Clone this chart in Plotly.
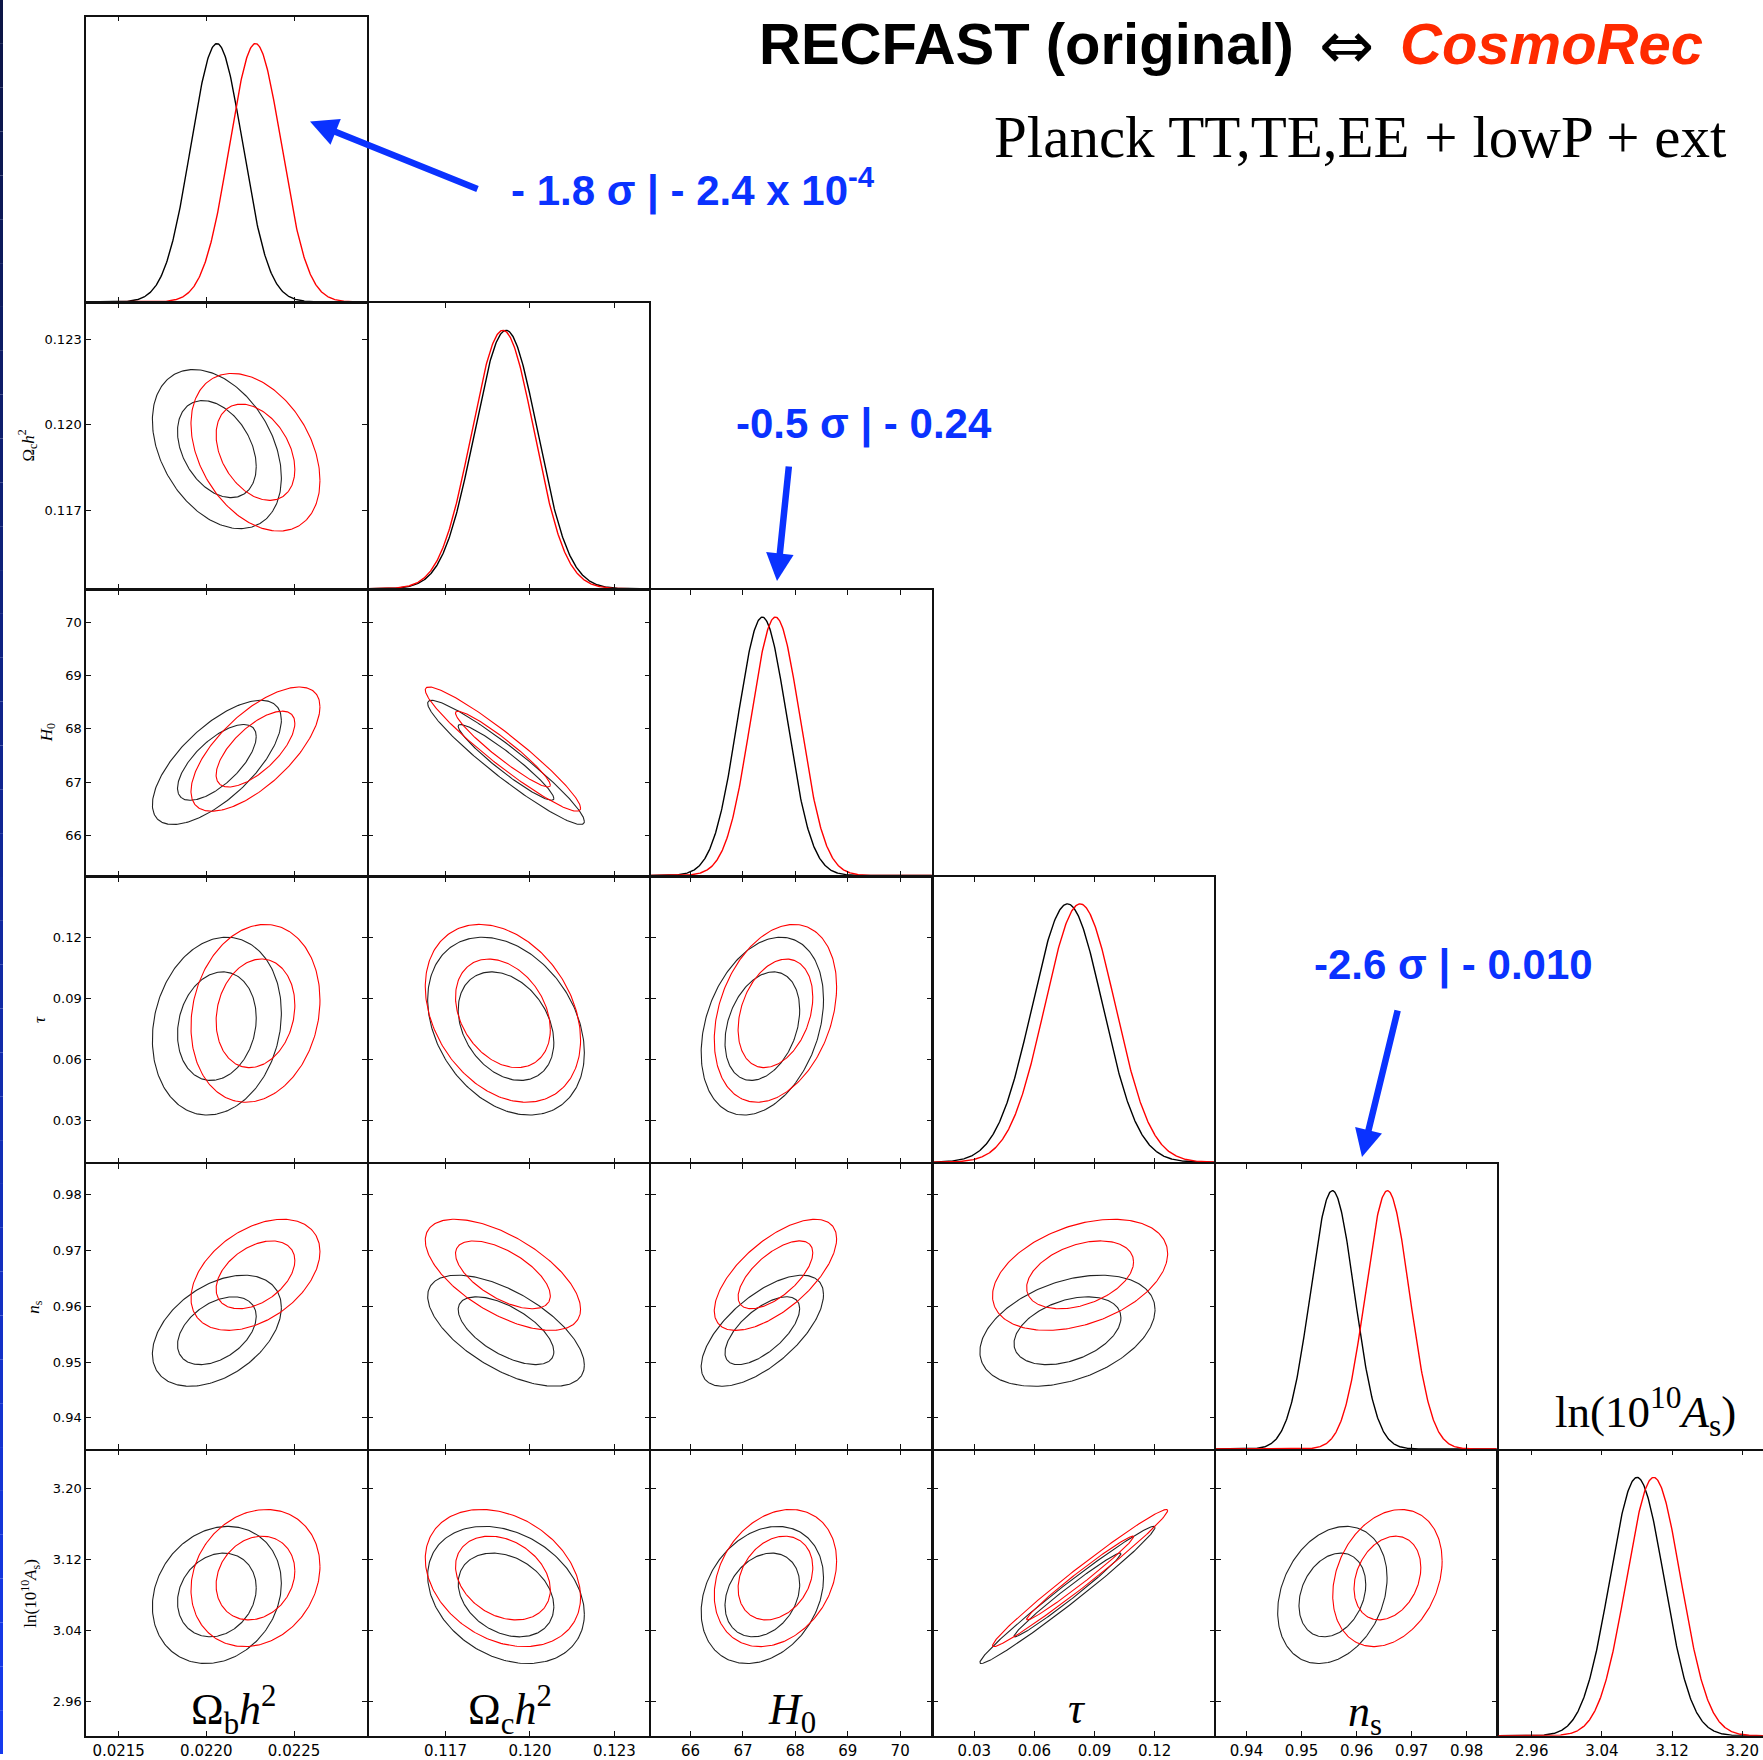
import numpy as np
import plotly.graph_objects as go

FIG_W, FIG_H = 1763, 1760

# ---------------- data ----------------
param_keys = ["omegabh2", "omegach2", "H0", "tau", "ns", "logA"]
side_labels = [
    "Ω<sub>b</sub><i>h</i><sup>2</sup>",
    "Ω<sub>c</sub><i>h</i><sup>2</sup>",
    "<i>H</i><sub>0</sub>",
    "<i>τ</i>",
    "<i>n</i><sub>s</sub>",
    "ln(10<sup>10</sup><i>A</i><sub>s</sub>)",
]
param_ranges = [
    [0.02131, 0.02292],
    [0.11424, 0.12427],
    [65.23, 70.62],
    [0.0092, 0.1502],
    [0.9343, 0.9856],
    [2.921, 3.243],
]
tick_values = [
    [0.0215, 0.0220, 0.0225],
    [0.117, 0.120, 0.123],
    [66, 67, 68, 69, 70],
    [0.03, 0.06, 0.09, 0.12],
    [0.94, 0.95, 0.96, 0.97, 0.98],
    [2.96, 3.04, 3.12, 3.20],
]
tick_labels = [
    ["0.0215", "0.0220", "0.0225"],
    ["0.117", "0.120", "0.123"],
    ["66", "67", "68", "69", "70"],
    ["0.03", "0.06", "0.09", "0.12"],
    ["0.94", "0.95", "0.96", "0.97", "0.98"],
    ["2.96", "3.04", "3.12", "3.20"],
]
# RECFAST (original) -> black, CosmoRec -> red
recfast_mean = [0.02206, 0.11915, 67.37, 0.0765, 0.9556, 3.080]
recfast_sigma = [0.000148, 0.00112, 0.47, 0.0176, 0.0040, 0.031]
cosmorec_mean = [0.02228, 0.11904, 67.62, 0.0828, 0.9656, 3.099]
cosmorec_sigma = [0.000148, 0.00111, 0.47, 0.0176, 0.0040, 0.031]
# lower-triangle correlation coefficients (row i, column j < i)
correlation = [
    [],
    [-0.36],
    [0.68, -0.95],
    [0.15, -0.30, 0.30],
    [0.42, -0.62, 0.65, 0.38],
    [0.17, -0.28, 0.25, 0.985, 0.25],
]
contour_chi2 = [2.30, 6.17]  # 68% and 95% 2D levels

series = [
    dict(name="RECFAST (original)", mean=recfast_mean, sigma=recfast_sigma, color="#000000", ccolor="#222222"),
    dict(name="CosmoRec", mean=cosmorec_mean, sigma=cosmorec_sigma, color="#ff0000", ccolor="#ff0000"),
]

# ---------------- geometry ----------------
GRID_LEFT, CELL_W = 85.3, 282.45
GRID_TOP, CELL_H = 16.0, 287.75
NP = len(param_keys)
LW = 1.5          # frame line width
INSET = LW / 2    # so that neighbouring frame lines coincide


def px2fx(px):
    return px / FIG_W


def py2fy(py):
    return 1 - py / FIG_H


fig = go.Figure()
layout_axes = {}
base_axis = dict(showgrid=False, zeroline=False, showline=True, linecolor="#111111",
                 linewidth=LW, ticks="inside", ticklen=5, tickwidth=1.1,
                 tickcolor="#111111", mirror="ticks")

panel = 0
for i in range(NP):
    for j in range(i + 1):
        panel += 1
        sfx = "" if panel == 1 else str(panel)
        xa, ya = "x" + sfx, "y" + sfx
        left_n = GRID_LEFT + j * CELL_W
        right_n = min(left_n + CELL_W, FIG_W)
        top_n = GRID_TOP + i * CELL_H
        bottom_n = top_n + CELL_H
        left = left_n + INSET
        right = right_n - INSET if right_n < FIG_W else FIG_W
        top = top_n + INSET
        bottom = bottom_n - INSET
        lo, hi = param_ranges[j]
        scale = (hi - lo) / CELL_W
        xr = [lo + (left - left_n) * scale, lo + (right - left_n) * scale]

        xaxis = dict(base_axis, domain=[px2fx(left), px2fx(right)], range=xr,
                     anchor=ya, tickvals=tick_values[j], ticktext=tick_labels[j],
                     showticklabels=(i == NP - 1),
                     tickfont=dict(family="DejaVu Sans", size=15, color="#000"))
        if i == j:
            yaxis = dict(showgrid=False, zeroline=False, showline=True, linecolor="#111111",
                         linewidth=LW, mirror=(j < NP - 1), ticks="", showticklabels=False,
                         domain=[py2fy(bottom), py2fy(top)], range=[0, 1.104], anchor=xa)
        else:
            ylo, yhi = param_ranges[i]
            yscale = (yhi - ylo) / CELL_H
            yr = [ylo + (bottom_n - bottom) * yscale, yhi - (top - top_n) * yscale]
            yaxis = dict(base_axis, domain=[py2fy(bottom), py2fy(top)],
                         range=yr, anchor=xa,
                         tickvals=tick_values[i], ticktext=tick_labels[i],
                         showticklabels=(j == 0),
                         tickfont=dict(family="DejaVu Sans", size=13, color="#000"))
        layout_axes["xaxis" + sfx] = xaxis
        layout_axes["yaxis" + sfx] = yaxis

        for s in series:
            if i == j:
                m, sg = s["mean"][j], s["sigma"][j]
                x = np.linspace(xr[0], xr[1], 500)
                y = np.exp(-0.5 * ((x - m) / sg) ** 2)
                fig.add_trace(go.Scatter(x=x, y=y, mode="lines", xaxis=xa, yaxis=ya,
                                         line=dict(color=s["color"], width=1.4),
                                         name=s["name"], showlegend=False, hoverinfo="skip"))
            else:
                mx, my = s["mean"][j], s["mean"][i]
                sx, sy = s["sigma"][j], s["sigma"][i]
                rho = correlation[i][j]
                t = np.linspace(0, 2 * np.pi, 241)
                for chi2 in contour_chi2:
                    k = np.sqrt(chi2)
                    u, v = np.cos(t), np.sin(t)
                    ex = mx + k * sx * u
                    ey = my + k * sy * (rho * u + np.sqrt(1 - rho ** 2) * v)
                    fig.add_trace(go.Scatter(x=ex, y=ey, mode="lines", xaxis=xa, yaxis=ya,
                                             line=dict(color=s["ccolor"], width=1.1),
                                             name=s["name"], showlegend=False, hoverinfo="skip"))

annotations = []
# y-axis labels of left column
ylab_x = [27.5, 47.5, 39.4, 35.3, 30.5]
for r in range(1, NP):
    cy = GRID_TOP + r * CELL_H + CELL_H / 2
    annotations.append(dict(x=px2fx(ylab_x[r - 1]), y=py2fy(cy), xref="paper", yref="paper",
                            text=side_labels[r], showarrow=False, textangle=-90,
                            xanchor="center", yanchor="middle",
                            font=dict(family="Liberation Serif", size=17, color="#000")))
# large labels inside the bottom row
big_pos = [(234, 1716), (510, 1716), (792, 1718), (1077, 1714), (1365, 1720)]
for c, (bx, by) in enumerate(big_pos):
    annotations.append(dict(x=px2fx(bx), y=py2fy(by), xref="paper", yref="paper",
                            text=side_labels[c], showarrow=False, xanchor="center", yanchor="middle",
                            font=dict(family="Liberation Serif", size=44, color="#000")))
annotations.append(dict(x=px2fx(1645), y=py2fy(1416), xref="paper", yref="paper",
                        text=side_labels[5], showarrow=False, xanchor="center", yanchor="middle",
                        font=dict(family="Liberation Serif", size=45, color="#000")))

# title and subtitle
TITLE_Y = 44
annotations.append(dict(x=px2fx(1296), y=py2fy(TITLE_Y), xref="paper", yref="paper",
                        text="<b>RECFAST (original)</b>", showarrow=False,
                        xanchor="right", yanchor="middle",
                        font=dict(family="Liberation Sans", size=58, color="#000")))
annotations.append(dict(x=px2fx(1346), y=py2fy(TITLE_Y + 2), xref="paper", yref="paper",
                        text="⇔", showarrow=False, xanchor="center", yanchor="middle",
                        font=dict(family="DejaVu Sans", size=66, color="#000")))
annotations.append(dict(x=px2fx(1398), y=py2fy(TITLE_Y), xref="paper", yref="paper",
                        text="<b><i>CosmoRec</i></b>", showarrow=False,
                        xanchor="left", yanchor="middle",
                        font=dict(family="Liberation Sans", size=58, color="#ff2a00")))
annotations.append(dict(x=px2fx(1729), y=py2fy(137), xref="paper", yref="paper",
                        text="Planck TT,TE,EE + lowP + ext", showarrow=False,
                        xanchor="right", yanchor="middle",
                        font=dict(family="Liberation Serif", size=59, color="#000")))

BLUE = "#0a32ff"
blue_texts = [
    ("<b>- 1.8 σ | - 2.4 x 10<sup>-4</sup></b>", 509, 188),
    ("<b>-0.5 σ | - 0.24</b>", 734, 425),
    ("<b>-2.6 σ | - 0.010</b>", 1312, 968),
]
for txt, tx, ty in blue_texts:
    annotations.append(dict(x=px2fx(tx), y=py2fy(ty), xref="paper", yref="paper", text=txt,
                            showarrow=False, xanchor="left", yanchor="middle",
                            font=dict(family="Liberation Sans", size=42, color=BLUE)))
arrows = [((479, 190), (310, 122)), ((789, 467), (777, 583)), ((1398, 1013), (1362, 1161))]
for (tx, ty), (hx, hy) in arrows:
    annotations.append(dict(x=px2fx(hx), y=py2fy(hy), xref="paper", yref="paper",
                            ax=tx - hx, ay=ty - hy, text="", showarrow=True,
                            arrowhead=2, arrowsize=0.85, arrowwidth=6.5, arrowcolor=BLUE,
                            standoff=0, startstandoff=0))

# left-edge blue strip
shapes = []
nseg = 40
for k in range(nseg):
    f = k / (nseg - 1)
    r = int(12 + (22 - 12) * f)
    g = int(22 + (58 - 22) * f)
    b = int(70 + (238 - 70) * f)
    shapes.append(dict(type="rect", xref="paper", yref="paper", x0=0, x1=px2fx(3),
                       y0=1 - (k + 1) / nseg, y1=1 - k / nseg,
                       fillcolor=f"rgb({r},{g},{b})", line=dict(width=0), layer="above"))

fig.update_layout(width=FIG_W, height=FIG_H, margin=dict(l=0, r=0, t=0, b=0),
                  paper_bgcolor="white", plot_bgcolor="rgba(0,0,0,0)",
                  showlegend=False, annotations=annotations, shapes=shapes, **layout_axes)
fig.write_html("out.html", config={"displayModeBar": False},
               post_script="document.body.style.margin='0px';document.body.style.padding='0px';")
